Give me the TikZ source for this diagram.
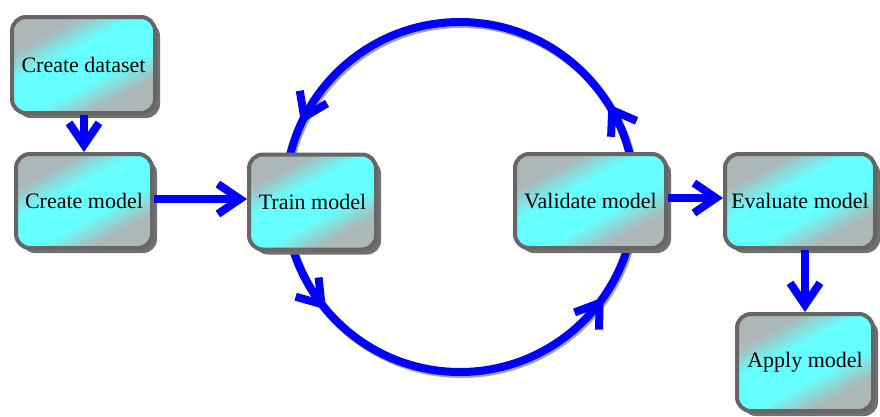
\documentclass[tikz,border=0pt]{standalone}
\usepackage{fontspec}
\setmainfont{Liberation Serif}
\newfontfamily\boxfont{Liberation Serif}
\usetikzlibrary{arrows.meta,shadows,decorations.markings}
\definecolor{boxgray}{RGB}{172,184,184}
\definecolor{boxcyan}{RGB}{102,255,255}
\definecolor{edgegray}{RGB}{102,102,102}
\definecolor{shadowgray}{RGB}{112,112,112}
\definecolor{flowblue}{RGB}{0,0,255}
\pgfdeclareverticalshading{boxshade}{100bp}{color(0bp)=(boxgray); color(30bp)=(boxgray); color(42bp)=(boxcyan); color(58bp)=(boxcyan); color(70bp)=(boxgray); color(100bp)=(boxgray)}
\begin{document}
\begin{tikzpicture}[x=1pt,y=1pt,
  box/.style={draw=edgegray, line width=4pt, rounded corners=14pt,
    shading=boxshade, shading angle=28, inner sep=0pt,
    font=\boxfont\fontsize{22}{26}\selectfont,
    drop shadow={shadow xshift=5pt, shadow yshift=-5pt, fill=shadowgray, opacity=1}},
  barbtip/.tip={Straight Barb[length=22pt,width=30pt]},
  arr/.style={draw=flowblue, line width=8pt, -{barbtip}},
]
\useasboundingbox (0,0) rectangle (880,-416);
\coordinate (cc) at (460,-197);
\draw[black!35, line width=8pt] ([shift={(176.5,-2)}]cc) arc[start angle=0,end angle=360,radius=175];
\draw[flowblue, line width=8pt, postaction=decorate,
  decoration={markings,
    mark=at position 0.089 with {\arrow{barbtip}},
    mark=at position 0.431 with {\arrow{barbtip}},
    mark=at position 0.611 with {\arrow{barbtip}},
    mark=at position 0.903 with {\arrow{barbtip}}}]
  ([xshift=175pt]cc) arc[start angle=0,end angle=360,radius=175];

\node[box, minimum width=143pt, minimum height=96pt] (ds) at (83.5,-65) {Create dataset};
\node[box, minimum width=136pt, minimum height=94pt] (cm) at (84,-201) {Create model};
\node[box, minimum width=127pt, minimum height=95pt] (tm) at (312.5,-202) {Train model};
\node[box, minimum width=151pt, minimum height=94pt] (vm) at (590.5,-201) {Validate model};
\node[box, minimum width=150pt, minimum height=94pt] (em) at (800,-201) {Evaluate model};
\node[box, minimum width=136pt, minimum height=97pt] (am) at (805,-362.5) {Apply model};

\draw[arr] (ds.south -| cm.north) -- (cm.north);
\draw[arr] ([yshift=2pt]cm.east) -- ([yshift=2pt]cm.east -| tm.west);
\draw[arr] ([yshift=3pt]vm.east) -- ([yshift=3pt]vm.east -| em.west);
\draw[arr] (em.south -| am.north) -- (am.north);
\end{tikzpicture}
\end{document}
